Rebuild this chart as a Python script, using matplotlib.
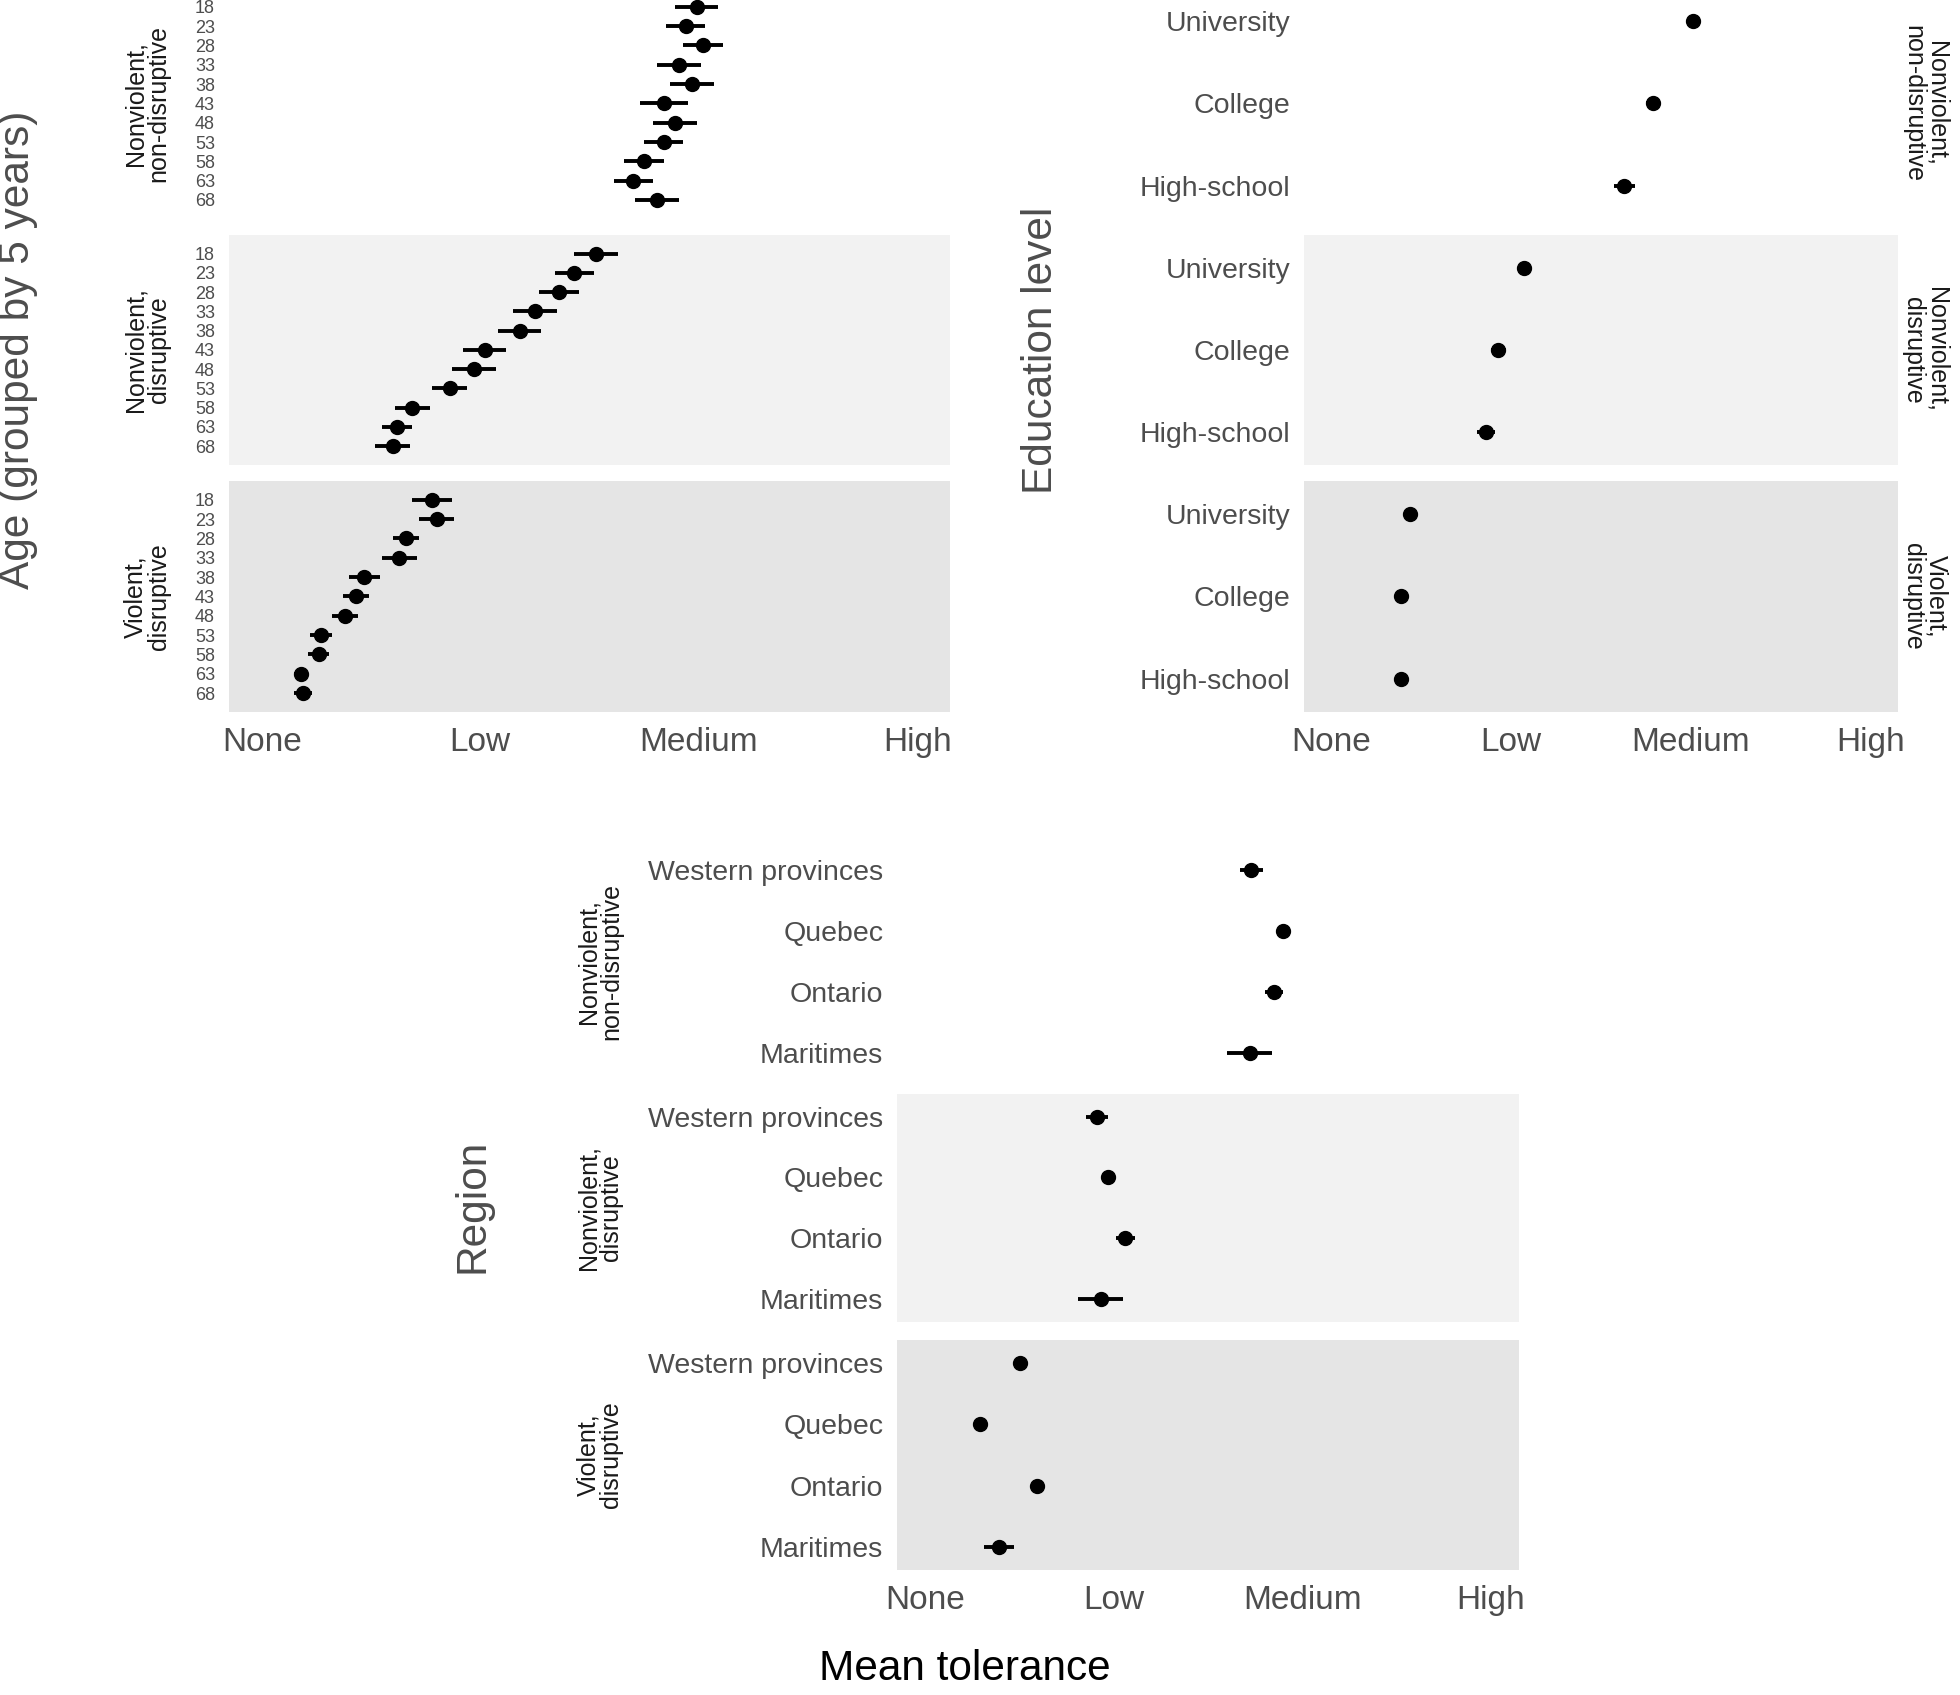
import numpy as np
import matplotlib
matplotlib.use('Agg')
import matplotlib.pyplot as plt

plt.rcParams['font.family'] = ['Liberation Sans', 'DejaVu Sans']

levels = ['None', 'Low', 'Medium', 'High']
facets = ['Nonviolent,\nnon-disruptive', 'Nonviolent,\ndisruptive', 'Violent,\ndisruptive']

# age groups (top to bottom)
ages = ['18', '23', '28', '33', '38', '43', '48', '53', '58', '63', '68']
age_mean = [
    [1.99, 1.94, 2.02, 1.91, 1.97, 1.84, 1.89, 1.84, 1.75, 1.70, 1.81],
    [1.53, 1.43, 1.36, 1.25, 1.18, 1.02, 0.97, 0.86, 0.69, 0.62, 0.60],
    [0.78, 0.80, 0.66, 0.63, 0.47, 0.43, 0.38, 0.27, 0.26, 0.18, 0.19],
]
age_err = [
    [0.10, 0.09, 0.09, 0.10, 0.10, 0.11, 0.10, 0.09, 0.09, 0.09, 0.10],
    [0.10, 0.09, 0.09, 0.10, 0.10, 0.10, 0.10, 0.08, 0.08, 0.07, 0.08],
    [0.09, 0.08, 0.06, 0.08, 0.07, 0.06, 0.06, 0.05, 0.05, 0.03, 0.04],
]

edu = ['University', 'College', 'High-school']
edu_mean = [
    [2.01, 1.79, 1.63],
    [1.07, 0.93, 0.86],
    [0.44, 0.39, 0.39],
]
edu_err = [
    [0.03, 0.04, 0.06],
    [0.03, 0.04, 0.05],
    [0.02, 0.02, 0.02],
]

regions = ['Western provinces', 'Quebec', 'Ontario', 'Maritimes']
reg_mean = [
    [1.73, 1.90, 1.85, 1.72],
    [0.91, 0.97, 1.06, 0.93],
    [0.50, 0.29, 0.59, 0.39],
]
reg_err = [
    [0.06, 0.03, 0.05, 0.12],
    [0.06, 0.03, 0.05, 0.12],
    [0.03, 0.03, 0.03, 0.08],
]

panel_bg = ['white', '#f2f2f2', '#e5e5e5']
tick_col = '#4d4d4d'
title_col = '#4d4d4d'
strip_col = '#1a1a1a'

fig = plt.figure(figsize=(19.6, 16.95), dpi=100)


def draw_block(x0, x1, tops, bottoms, cats, means, errs, pad, ytick_size,
               strip_x, strip_rot):
    axes = []
    for i in range(3):
        ax = fig.add_axes([x0, bottoms[i], x1 - x0, tops[i] - bottoms[i]])
        ax.set_facecolor(panel_bg[i])
        y = np.arange(len(cats))
        ax.errorbar(means[i], y, xerr=errs[i], fmt='o', color='black',
                    markersize=10, elinewidth=2.8, capsize=0)
        ax.set_xlim(-0.15, 3.15)
        ax.set_ylim(len(cats) - 1 + pad, -pad)
        ax.set_yticks(y)
        ax.set_yticklabels(cats, fontsize=ytick_size, color=tick_col)
        ax.tick_params(axis='y', length=0, pad=10)
        ax.set_xticks([0, 1, 2, 3])
        if i < 2:
            ax.set_xticklabels([])
        else:
            ax.set_xticklabels(levels, fontsize=24, color=tick_col)
        ax.tick_params(axis='x', length=0, pad=11)
        for s in ax.spines.values():
            s.set_visible(False)
        fig.text(strip_x, (tops[i] + bottoms[i]) / 2, facets[i], rotation=strip_rot,
                 ha='center', va='center', ma='center', fontsize=18,
                 color=strip_col, linespacing=0.95)
        axes.append(ax)
    return axes


top_tops = [1.007, 0.8614, 0.7162]
top_bots = [0.871, 0.7257, 0.580]

draw_block(0.1168, 0.4847, top_tops, top_bots, ages, age_mean, age_err,
           0.97, 13, 0.075, 90)
draw_block(0.6653, 0.9684, top_tops, top_bots, edu, edu_mean, edu_err,
           0.4, 20.5, 0.982, 270)

reg_tops = [0.5003, 0.3546, 0.2094]
reg_bots = [0.3652, 0.2201, 0.0737]
draw_block(0.4577, 0.775, reg_tops, reg_bots, regions, reg_mean, reg_err,
           0.37, 20.5, 0.306, 90)

fig.text(0.009, 0.7935, 'Age (grouped by 5 years)', rotation=90, ha='center',
         va='center', fontsize=30.5, color=title_col)
fig.text(0.531, 0.7935, 'Education level', rotation=90, ha='center',
         va='center', fontsize=30.5, color=title_col)
fig.text(0.241, 0.2885, 'Region', rotation=90, ha='center',
         va='center', fontsize=30.5, color=title_col)
fig.text(0.492, 0.0035, 'Mean tolerance', ha='center', va='bottom',
         fontsize=30.5, color='black')

fig.savefig('out.png', dpi=100)
